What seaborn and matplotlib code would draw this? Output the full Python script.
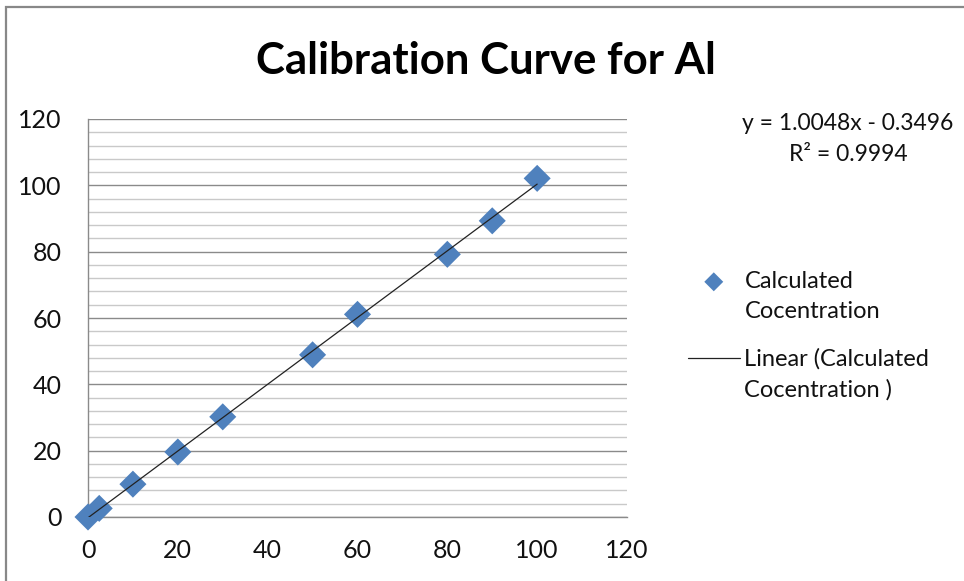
import matplotlib
matplotlib.use("Agg")
import matplotlib.pyplot as plt
import matplotlib.patches as mpatches
from matplotlib.ticker import MultipleLocator
import numpy as np
import pandas as pd
import seaborn as sns

# ---- data ----
actual_conc = [0, 2.5, 10, 20, 30, 50, 60, 80, 90, 100]
calculated_conc = [0.0, 2.6, 9.9, 19.6, 30.2, 48.9, 61.1, 79.2, 89.3, 102.1]
title = "Calibration Curve for Al"
series_label = "Calculated\nCocentration"
trend_label = "Linear (Calculated\nCocentration )"
equation_text = "y = 1.0048x - 0.3496\nR\u00b2 = 0.9994"
axis_ticks = [0, 20, 40, 60, 80, 100, 120]

df = pd.DataFrame({"x": actual_conc, "y": calculated_conc})

sns.set_theme(style="white")
plt.rcParams["font.family"] = ["Lato", "DejaVu Sans"]

fig = plt.figure(figsize=(9.64, 5.81), dpi=100)
ax = fig.add_axes([88 / 964, 1 - 517 / 581, (627 - 88) / 964, (517 - 119) / 581])

blue = "#4F81BD"
sns.regplot(data=df, x="x", y="y", ax=ax, ci=None, truncate=True, scatter=False,
            line_kws=dict(color="#222222", lw=0.9, zorder=4))
h_line = ax.get_lines()[0]
sns.scatterplot(data=df, x="x", y="y", ax=ax, marker="D", s=190, color=blue,
                edgecolor="none", zorder=3, clip_on=False, legend=False)
h_sc = ax.collections[-1]

ax.set_xlim(0, 120)
ax.set_ylim(0, 120)
ax.set_xticks(axis_ticks)
ax.set_yticks(axis_ticks)
ax.yaxis.set_minor_locator(MultipleLocator(4))
ax.grid(False)
ax.grid(True, which="major", axis="y", color="#8a8a8a", lw=1.0, zorder=0)
ax.grid(True, which="minor", axis="y", color="#c9c9c9", lw=1.0, zorder=0)
ax.set_axisbelow(True)
ax.set_xlabel("")
ax.set_ylabel("")

for s in ["top", "right"]:
    ax.spines[s].set_visible(False)
for s in ["left", "bottom"]:
    ax.spines[s].set_color("#8a8a8a")
    ax.spines[s].set_linewidth(1.0)

ax.tick_params(axis="both", which="major", direction="out", length=5, width=1,
               color="#8a8a8a", labelsize=18, labelcolor="#111111")
ax.tick_params(axis="x", pad=11)
ax.tick_params(axis="y", pad=14)
ax.tick_params(axis="y", which="minor", length=0)

fig.text(486 / 964, 1 - 61 / 581, title, ha="center", va="center",
         fontsize=31.5, fontweight="bold", color="black")

fig.text(848 / 964, 1 - 139 / 581, equation_text, ha="center", va="center",
         fontsize=16.5, color="#111111", linespacing=1.55)

leg = fig.legend([h_sc, h_line], [series_label, trend_label], loc="upper left",
                 bbox_to_anchor=(676 / 964, 1 - 259 / 581),
                 frameon=False, fontsize=17, handlelength=2.2, handleheight=1.2,
                 handletextpad=0.2, labelspacing=1.1, borderpad=0,
                 labelcolor="#111111", markerscale=0.7)
for t in leg.get_texts():
    t.set_linespacing(1.55)
for col in leg._legend_handle_box.get_children():
    for item in col.get_children():
        item.align = "top"

border = mpatches.Rectangle((5.5 / 964, -0.05), 1.2, 1 - 6.5 / 581 + 0.05,
                            transform=fig.transFigure, fill=False,
                            edgecolor="#888888", lw=1.6)
fig.patches.append(border)

fig.savefig("out.png", dpi=100, facecolor="white")
